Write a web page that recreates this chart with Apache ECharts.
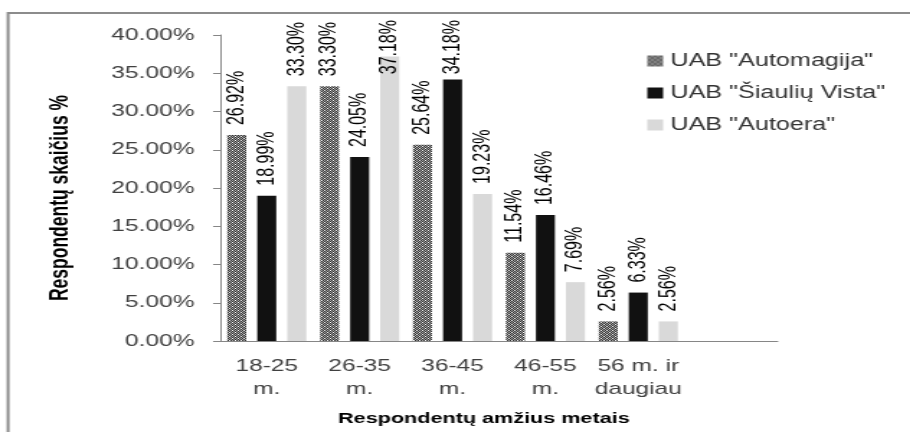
<!DOCTYPE html>
<html>
<head>
<meta charset="utf-8">
<script src="https://cdn.jsdelivr.net/npm/echarts@6/dist/echarts.min.js"></script>
<style>
    html, body { margin: 0; padding: 0; background: #fff; overflow: hidden; }
    /* the reference is a horizontally stretched Excel chart, so the chart is drawn narrow and stretched */
    #chart { width: 632px; height: 432px; transform: scaleX(1.44); transform-origin: 0 0; }
</style>
</head>
<body>
<div id="chart"></div>
<script>
var categories = ['18-25\nm.', '26-35\nm.', '36-45\nm.', '46-55\nm.', '56 m. ir\ndaugiau'];
var seriesNames = ['UAB "Automagija"', 'UAB "Šiaulių Vista"', 'UAB "Autoera"'];
var automagija = [26.92, 33.30, 25.64, 11.54, 2.56];
var siauliuVista = [18.99, 24.05, 34.18, 16.46, 6.33];
var autoera = [33.30, 37.18, 19.23, 7.69, 2.56];
var yMin = 0, yMax = 40, yStep = 5;

var font = '"Liberation Sans", Arial, sans-serif';

// dotted pattern for the first series
var pat = document.createElement('canvas');
pat.width = 4;
pat.height = 4;
var pctx = pat.getContext('2d');
for (var px = 0; px < 4; px++) {
    for (var py = 0; py < 4; py++) {
        pctx.fillStyle = (px + py) % 2 == 0 ? '#2e2e2e' : '#a6a6a6';
        pctx.fillRect(px, py, 1, 1);
    }
}
pctx.fillStyle = '#ffffff';
pctx.fillRect(1, 2, 1, 1);
pctx.fillRect(3, 0, 1, 1);

var colors = [{ image: pat, repeat: 'repeat' }, '#111111', '#d9d9d9'];

function pct(v) {
    return v.toFixed(2) + '%';
}

var barLabel = {
    show: true,
    position: 'top',
    rotate: 90,
    align: 'left',
    verticalAlign: 'middle',
    distance: 10,
    fontFamily: font,
    fontSize: 16,
    color: '#000',
    formatter: function (p) { return pct(p.value); }
};

// keep labels inside the chart like Excel does (push tall ones down)
function keepInside(params) {
    var r = params.labelRect;
    if (r.y < 20) {
        return { y: 20 + r.height };
    }
}

var chart = echarts.init(document.getElementById('chart'));
var option = {
    animation: false,
    backgroundColor: '#fff',
    graphic: [{
        type: 'rect',
        shape: { x: 5.6, y: 13, width: 800, height: 600 },
        style: { fill: 'none', stroke: '#8c8c8c', lineWidth: 2 },
        silent: true
    }],
    legend: {
        orient: 'vertical',
        left: 444.5,
        top: 47,
        itemWidth: 11,
        itemHeight: 11,
        itemGap: 14,
        icon: 'rect',
        textStyle: { fontFamily: font, fontSize: 17.5, color: '#333' },
        data: seriesNames
    },
    grid: {
        left: 153,
        right: 92,
        top: 35,
        bottom: 91
    },
    xAxis: {
        type: 'category',
        data: categories,
        max: 5,
        name: 'Respondentų amžius metais',
        nameLocation: 'middle',
        nameGap: 70,
        nameTextStyle: { fontFamily: font, fontSize: 15, fontWeight: 'bold', color: '#000', padding: [0, 21, 0, 0] },
        axisLine: { lineStyle: { color: '#868686', width: 1 } },
        axisTick: { show: false },
        axisLabel: { interval: 0, fontFamily: font, fontSize: 17, lineHeight: 23, margin: 14, color: '#404040' }
    },
    yAxis: {
        type: 'value',
        min: yMin,
        max: yMax,
        interval: yStep,
        name: 'Respondentų skaičius %',
        nameLocation: 'middle',
        nameGap: 102,
        nameTextStyle: { fontFamily: font, fontSize: 17.5, fontWeight: 'bold', color: '#000', padding: [0, 20, 0, 0] },
        axisLine: { show: true, lineStyle: { color: '#868686', width: 1 } },
        axisTick: { show: true, length: 5, lineStyle: { color: '#868686' } },
        splitLine: { show: false },
        axisLabel: {
            fontFamily: font, fontSize: 17, margin: 18, color: '#404040',
            formatter: function (v) { return pct(v); }
        }
    },
    series: [
        { name: seriesNames[0], type: 'bar', data: automagija, barWidth: 13.2, barGap: '58%', itemStyle: { color: colors[0] }, label: barLabel, labelLayout: keepInside },
        { name: seriesNames[1], type: 'bar', data: siauliuVista, barWidth: 13.2, barGap: '58%', itemStyle: { color: colors[1] }, label: barLabel, labelLayout: keepInside },
        { name: seriesNames[2], type: 'bar', data: autoera, barWidth: 13.2, barGap: '58%', itemStyle: { color: colors[2] }, label: barLabel, labelLayout: keepInside }
    ]
};
chart.setOption(option);
</script>
</body>
</html>
